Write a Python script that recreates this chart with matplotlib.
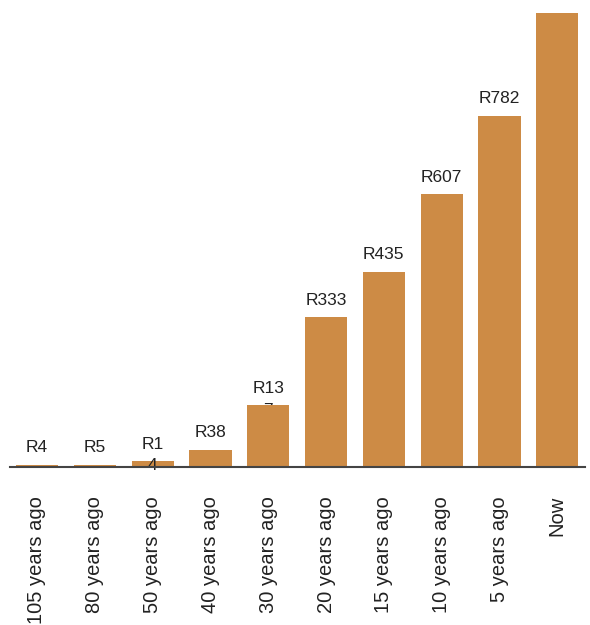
import matplotlib.pyplot as plt

categories = ["105 years ago", "80 years ago", "50 years ago", "40 years ago",
              "30 years ago", "20 years ago", "15 years ago", "10 years ago",
              "5 years ago", "Now"]
values = [4, 5, 14, 38, 137, 333, 435, 607, 782, 1010]
labels = ["R4", "R5", "R1\n4", "R38", "R13\n7", "R333", "R435", "R607", "R782", ""]

plt.rcParams['font.family'] = ['Liberation Sans', 'DejaVu Sans']

fig = plt.figure(figsize=(5.9, 6.25), dpi=100)
ax = fig.add_axes([10 / 590, 1 - 467 / 625, 575 / 590, 467 / 625])

color = '#CD8B45'
x = list(range(len(categories)))
ax.bar(x, values, width=0.73, color=color, zorder=2)

for i, (v, lbl) in enumerate(zip(values, labels)):
    if not lbl:
        continue
    if "\n" in lbl:
        # wrapped labels sit low, second line runs into the bar
        ax.annotate(lbl, (i, v), xytext=(0, -9), textcoords='offset points',
                    ha='center', va='bottom', fontsize=12.5, color='#222222',
                    linespacing=1.55, zorder=1 if v > 100 else 3)
    else:
        ax.annotate(lbl, (i, v), xytext=(0, 7), textcoords='offset points',
                    ha='center', va='bottom', fontsize=12.5, color='#222222')

ax.set_xlim(-0.467, 9.48)
ax.set_ylim(0, 1040)
ax.set_xticks(x)
ax.set_xticklabels(categories, rotation=90, fontsize=14.5, color='#222222')
ax.tick_params(axis='x', length=0, pad=21)
ax.set_yticks([])
for s in ['top', 'left', 'right']:
    ax.spines[s].set_visible(False)
ax.spines['bottom'].set_color('#444444')
ax.spines['bottom'].set_linewidth(1.5)
ax.spines['bottom'].set_zorder(4)

plt.savefig("out.png", dpi=100)
